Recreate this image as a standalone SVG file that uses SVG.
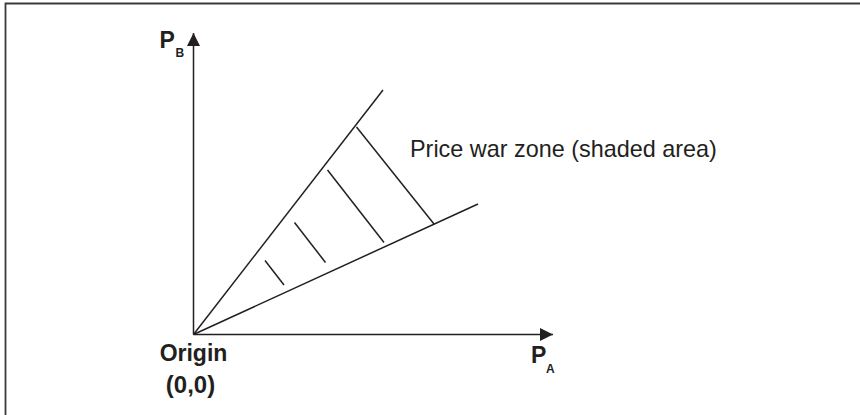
<svg xmlns="http://www.w3.org/2000/svg" width="860" height="415" viewBox="0 0 860 415">
<style>
.ln{stroke:#231f20;stroke-width:1.5;fill:none}
.t{font-family:"Liberation Sans",Arial,sans-serif;fill:#231f20}
.b{font-weight:bold}
</style>
<defs>
<marker id="ah" markerWidth="13" markerHeight="13" refX="13" refY="6.5" orient="auto" markerUnits="userSpaceOnUse">
<path d="M0,0 L13,6.5 L0,13 Z" fill="#231f20"/>
</marker>
</defs>
<rect width="860" height="415" fill="#ffffff"/>
<path d="M5.5,420 L5.5,3.5 L865,3.5" fill="none" stroke="#3a3a3a" stroke-width="1.8"/>
<g id="connectors">
<line class="ln" x1="193.5" y1="334.5" x2="193.5" y2="33" marker-end="url(#ah)"/>
<line class="ln" x1="193.5" y1="334.5" x2="553" y2="334.5" marker-end="url(#ah)"/>
<line class="ln" x1="193.5" y1="334.5" x2="383" y2="90"/>
<line class="ln" x1="193.5" y1="334.5" x2="478" y2="204"/>
<line class="ln" x1="356.5" y1="127" x2="434" y2="224"/>
<line class="ln" x1="327.5" y1="170" x2="384" y2="242.5"/>
<line class="ln" x1="294.5" y1="222.5" x2="325.5" y2="262.5"/>
<line class="ln" x1="265" y1="260.5" x2="284" y2="285"/>
</g>
<g id="label-pb">
<text class="t b" x="159.5" y="47.5" font-size="23">P</text>
<text class="t b" x="175.5" y="56.5" font-size="12">B</text>
</g>
<g id="label-pa">
<text class="t b" x="531" y="362.5" font-size="23">P</text>
<text class="t b" x="546" y="372.5" font-size="12">A</text>
</g>
<g id="label-origin">
<text class="t b" x="193.5" y="360.5" font-size="23" text-anchor="middle">Origin</text>
<text class="t b" x="190.5" y="392.5" font-size="24" text-anchor="middle">(0,0)</text>
</g>
<g id="label-zone">
<text class="t" x="410" y="156.5" font-size="23.4">Price war zone (shaded area)</text>
</g>
</svg>
